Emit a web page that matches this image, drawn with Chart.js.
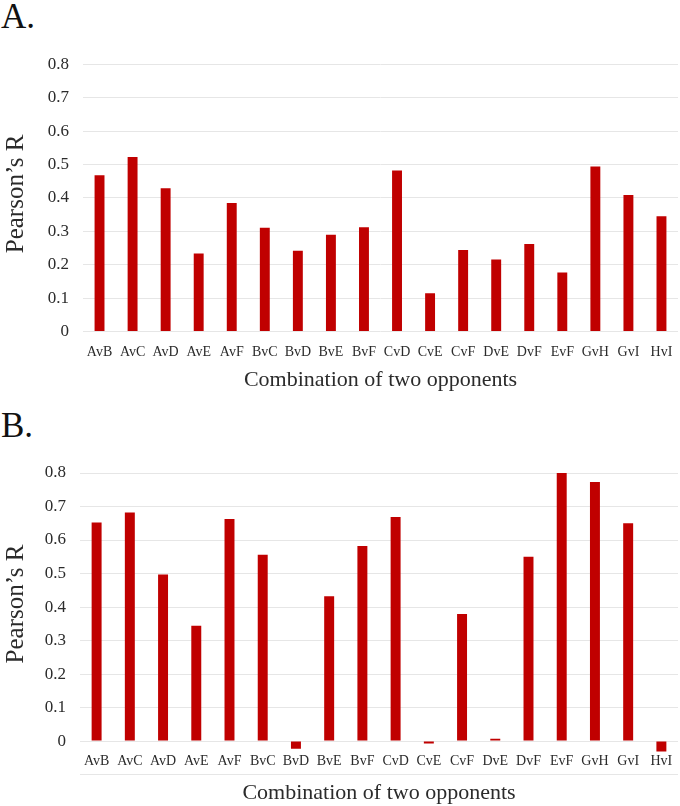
<!DOCTYPE html>
<html>
<head>
<meta charset="utf-8">
<script src="https://cdn.jsdelivr.net/npm/chart.js@4"></script>
<style>
    body { margin: 0; width: 680px; height: 806px; background: #fff; position: relative; overflow: hidden; }
    .panel-label { position: absolute; left: 1px; font: 35px/1 "Liberation Serif", "Times New Roman", serif; color: #111; }
    canvas { position: absolute; left: 0; }
</style>
</head>
<body>
<div class="panel-label" style="top: -1px;">A.</div>
<canvas id="canvasA" width="680" height="360" style="top: 40px;"></canvas>
<div class="panel-label" style="top: 408px;">B.</div>
<canvas id="canvasB" width="680" height="366" style="top: 440px;"></canvas>
<script>
// 組み合わせ (カテゴリ)
const pairs = ['AvB', 'AvC', 'AvD', 'AvE', 'AvF', 'BvC', 'BvD', 'BvE', 'BvF',
    'CvD', 'CvE', 'CvF', 'DvE', 'DvF', 'EvF', 'GvH', 'GvI', 'HvI'];

// A. の Pearson's R
const pearsonA = [0.468, 0.522, 0.429, 0.234, 0.385, 0.311, 0.242, 0.290, 0.312,
    0.482, 0.115, 0.244, 0.216, 0.262, 0.177, 0.494, 0.409, 0.345];

// B. の Pearson's R
const pearsonB = [0.652, 0.682, 0.497, 0.344, 0.663, 0.556, -0.023, 0.432, 0.582,
    0.669, -0.007, 0.379, 0.007, 0.550, 0.800, 0.773, 0.650, -0.031];

// 縦軸の範囲
const yMaxVal = 0.8;
const yStep = 0.1;
const yMinA = 0;
const yMinB = -0.1;

const serif = '"Liberation Serif", "Times New Roman", serif';
const barColor = '#C00000';
const gridColor = '#e6e6e6';
const textColor = '#2b2b2b';

// 縦軸タイトルを 0〜0.8 の中央に描く
const yTitlePlugin = {
    id: 'yTitle',
    afterDraw(chart, args, opts) {
        const ctx = chart.ctx;
        const y = chart.scales.y;
        const mid = (y.getPixelForValue(0) + y.getPixelForValue(yMaxVal)) / 2 + opts.shift;
        ctx.save();
        ctx.translate(opts.x, mid);
        ctx.rotate(-Math.PI / 2);
        ctx.font = '25px ' + serif;
        ctx.fillStyle = textColor;
        ctx.textAlign = 'center';
        ctx.textBaseline = 'middle';
        ctx.fillText(opts.text, 0, 0);
        ctx.restore();
    }
};

function makeChart(canvasId, values, yMin, opt) {
    const ctx = document.getElementById(canvasId).getContext('2d');
    const xScale = {
        grid: { display: false },
        border: { display: false },
        ticks: {
            color: textColor,
            font: { family: serif, size: 14 },
            padding: 4,
            maxRotation: 0,
            autoSkip: false
        }
    };
    if (yMin < 0) {
        // 負の値があるときはラベルを 0 の線の下に置く
        xScale.position = { y: 0 };
    } else {
        xScale.afterFit = (scale) => { scale.height = opt.xHeight; };
    }

    return new Chart(ctx, {
        type: 'bar',
        data: {
            labels: pairs,
            datasets: [{
                data: values,
                backgroundColor: barColor,
                borderWidth: 0,
                barPercentage: 0.3,
                categoryPercentage: 1.0
            }]
        },
        options: {
            responsive: false,
            animation: false,
            layout: { padding: { top: opt.top, right: 2, left: 0, bottom: 0 } },
            plugins: {
                legend: { display: false },
                tooltip: { enabled: false },
                title: {
                    display: true,
                    position: 'bottom',
                    fullSize: false,
                    text: 'Combination of two opponents',
                    color: textColor,
                    font: { family: serif, size: 22, weight: 'normal' },
                    padding: opt.titlePadding
                },
                yTitle: { text: 'Pearson\u2019s R', x: 16, shift: opt.titleShift }
            },
            scales: {
                x: xScale,
                y: {
                    min: yMin,
                    max: yMaxVal,
                    grid: { color: gridColor, lineWidth: 1, drawTicks: false },
                    border: { display: false },
                    ticks: {
                        stepSize: yStep,
                        padding: 14,
                        color: textColor,
                        font: { family: serif, size: 17 },
                        callback: (v) => {
                            if (v < -0.0001) return '';
                            return String(Math.round(v * 10) / 10);
                        }
                    },
                    afterFit: (scale) => { scale.width = opt.yWidth; }
                }
            }
        },
        plugins: [yTitlePlugin]
    });
}

makeChart('canvasA', pearsonA, yMinA, {
    top: 22, yWidth: 83, xHeight: 35, titleShift: -4,
    titlePadding: { top: 0, bottom: 7 }
});

makeChart('canvasB', pearsonB, yMinB, {
    top: 33, yWidth: 80, titleShift: -3,
    titlePadding: { top: 5, bottom: 0 }
});
</script>
</body>
</html>
